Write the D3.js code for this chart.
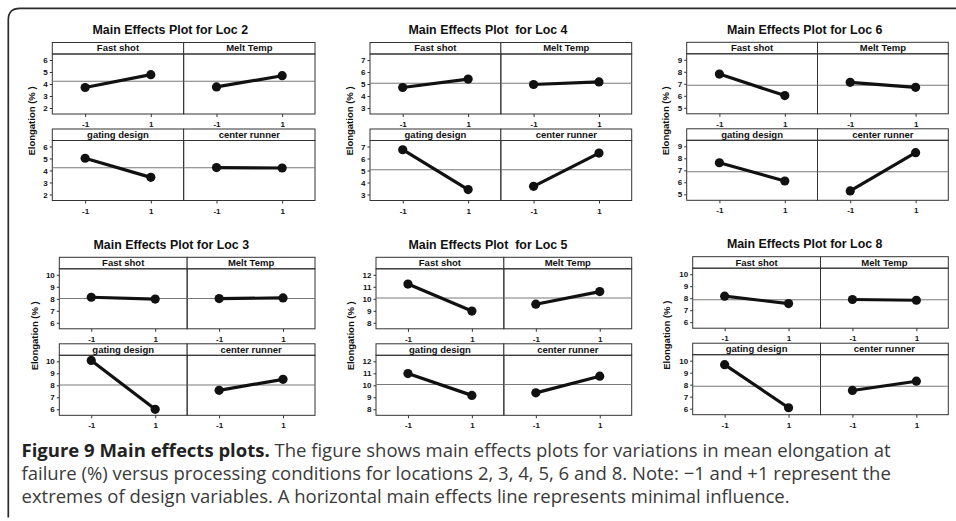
<!DOCTYPE html>
<html>
<head>
<meta charset="utf-8">
<script src="https://cdn.jsdelivr.net/npm/d3@7"></script>
<style>
  html, body { margin: 0; padding: 0; background: #fff; }
  svg { display: block; }
  .title { font-family: "Liberation Sans", Arial, sans-serif; font-weight: bold; font-size: 12.4px; fill: #111; }
  .strip { font-family: "Liberation Sans", Arial, sans-serif; font-weight: bold; font-size: 9.5px; fill: #111; }
  .ylab { font-family: "Liberation Sans", Arial, sans-serif; font-weight: bold; font-size: 9.5px; fill: #111; }
  .tick text { font-family: "Liberation Sans", Arial, sans-serif; font-weight: bold; font-size: 8px; fill: #111; }
  .caption { font-family: "Open Sans", sans-serif; font-size: 18.5px; fill: #3a3a3a; }
  .caption .lead { font-weight: bold; fill: #222; }
</style>
</head>
<body>
<svg id="fig" width="956" height="521"></svg>
<script>
// Factors shown in each 2x2 main-effects grid (row-major)
const factors = ["Fast shot", "Melt Temp", "gating design", "center runner"];
const levels = [-1, 1];

// Locations, in drawing order (top row, then bottom row)
const locations = ["Loc 2", "Loc 4", "Loc 6", "Loc 3", "Loc 5", "Loc 8"];
const titles = [
  "Main Effects Plot for Loc 2",
  "Main Effects Plot  for Loc 4",
  "Main Effects Plot for Loc 6",
  "Main Effects Plot for Loc 3",
  "Main Effects Plot  for Loc 5",
  "Main Effects Plot for Loc 8"
];

// Grand mean elongation (%) per location — the horizontal reference line
const grandMeans = [4.23, 5.06, 6.88, 8.03, 10.07, 7.87];

// Y-axis extents and tick labels per location
const yDomains = [[1.5, 6.5], [2.5, 7.5], [4.5, 9.5], [5.5, 10.5], [7.5, 12.5], [5.5, 10.5]];
const yTicks = [
  [2, 3, 4, 5, 6],
  [3, 4, 5, 6, 7],
  [5, 6, 7, 8, 9],
  [6, 7, 8, 9, 10],
  [8, 9, 10, 11, 12],
  [6, 7, 8, 9, 10]
];

// Mean elongation (%) at levels -1 / +1, one pair per factor
const loc2Means = [[3.71, 4.78], [3.76, 4.69], [5.02, 3.43], [4.24, 4.21]];
const loc4Means = [[4.71, 5.41], [4.96, 5.17], [6.73, 3.41], [3.68, 6.45]];
const loc6Means = [[7.81, 6.02], [7.12, 6.71], [7.63, 6.11], [5.28, 8.47]];
const loc3Means = [[8.13, 7.98], [8.02, 8.07], [10.07, 6.00], [7.58, 8.50]];
const loc5Means = [[11.23, 8.98], [9.55, 10.60], [10.98, 9.16], [9.37, 10.76]];
const loc8Means = [[8.17, 7.55], [7.89, 7.83], [9.67, 6.08], [7.52, 8.29]];
const locationMeans = [loc2Means, loc4Means, loc6Means, loc3Means, loc5Means, loc8Means];

// Caption text
const captionLead = "Figure 9 Main effects plots.";
const captionLines = [
  " The figure shows main effects plots for variations in mean elongation at",
  "failure (%) versus processing conditions for locations 2, 3, 4, 5, 6 and 8. Note: \u22121 and +1 represent the",
  "extremes of design variables. A horizontal main effects line represents minimal influence."
];

// ---- layout of each grid: left edge, right edge, top of first strip, y-label offset
const layout = [
  { left: 52.3, right: 315.0, top: 42.5, labelDx: 21 },
  { left: 370.0, right: 631.7, top: 42.5, labelDx: 21 },
  { left: 686.7, right: 948.3, top: 42.3, labelDx: 21.5 },
  { left: 59.3, right: 315.0, top: 257.3, labelDx: 24.5 },
  { left: 376.0, right: 631.7, top: 257.3, labelDx: 25.5 },
  { left: 692.7, right: 948.3, top: 256.7, labelDx: 26.5 }
];
const stripH = 11.5, plotH = 60, rowGap = 15;
const frameColor = "#333";

const svg = d3.select("#fig");

// Rounded frame along the top and left of the figure
svg.append("path")
  .attr("d", "M8.3,517.5 L8.3,20 Q8.3,8.3 20,8.3 L956,8.3")
  .attr("fill", "none")
  .attr("stroke", "#2b2b2b")
  .attr("stroke-width", 1.7);

locations.forEach((loc, i) => {
  const L = layout[i];
  const half = (L.right - L.left) / 2;
  const g = svg.append("g").attr("class", "grid");

  // Title
  const titleOffset = i < 3 ? 118 : 112;
  g.append("text")
    .attr("class", "title")
    .attr("x", L.left + titleOffset)
    .attr("y", L.top - 8.3)
    .attr("text-anchor", "middle")
    .style("white-space", "pre")
    .text(titles[i]);

  // Y-axis title
  const cy = L.top + 78.5;
  g.append("text")
    .attr("class", "ylab")
    .attr("transform", `translate(${L.left - L.labelDx + 3.5},${cy}) rotate(-90)`)
    .attr("text-anchor", "middle")
    .text("Elongation (% )");

  factors.forEach((f, k) => {
    const row = Math.floor(k / 2), col = k % 2;
    const x0 = L.left + col * half, x1 = x0 + half;
    const stripTop = L.top + row * (stripH + plotH + rowGap);
    const plotTop = stripTop + stripH;
    const plotBottom = plotTop + plotH;

    const x = d3.scaleLinear().domain([-2, 2]).range([x0, x1]);
    const y = d3.scaleLinear().domain(yDomains[i]).range([plotBottom, plotTop]);

    // Strip label box
    g.append("rect")
      .attr("x", x0).attr("y", stripTop)
      .attr("width", half).attr("height", stripH)
      .attr("fill", "#fff").attr("stroke", frameColor).attr("stroke-width", 1);
    g.append("text")
      .attr("class", "strip")
      .attr("x", (x0 + x1) / 2)
      .attr("y", stripTop + stripH - 2.6)
      .attr("text-anchor", "middle")
      .text(f);

    // Panel frame
    g.append("rect")
      .attr("x", x0).attr("y", plotTop)
      .attr("width", half).attr("height", plotH)
      .attr("fill", "none").attr("stroke", frameColor).attr("stroke-width", 1);

    // Grand-mean reference line
    g.append("line")
      .attr("x1", x0).attr("x2", x1)
      .attr("y1", y(grandMeans[i])).attr("y2", y(grandMeans[i]))
      .attr("stroke", "#7a7a7a").attr("stroke-width", 1.1);

    // Axes
    if (col === 0) {
      const ya = g.append("g")
        .attr("transform", `translate(${x0},0)`)
        .call(d3.axisLeft(y).tickValues(yTicks[i]).tickSize(2.5).tickPadding(2).tickFormat(d3.format("d")));
      ya.select(".domain").remove();
      ya.selectAll(".tick line").attr("stroke", frameColor);
    }
    const xa = g.append("g")
      .attr("transform", `translate(0,${plotBottom})`)
      .call(d3.axisBottom(x).tickValues(levels).tickSize(3).tickPadding(4.5).tickFormat(d => String(d)));
    xa.select(".domain").remove();
    xa.selectAll(".tick line").attr("stroke", frameColor);

    // Mean response line and points
    const pts = levels.map((lv, j) => ({ lv, v: locationMeans[i][k][j] }));
    g.append("path")
      .datum(pts)
      .attr("d", d3.line().x(d => x(d.lv)).y(d => y(d.v)))
      .attr("fill", "none")
      .attr("stroke", "#111")
      .attr("stroke-width", 3.2);
    g.selectAll(null)
      .data(pts)
      .join("circle")
      .attr("cx", d => x(d.lv))
      .attr("cy", d => y(d.v))
      .attr("r", 4.6)
      .attr("fill", "#111");
  });
});

// Caption, three lines with a bold lead-in
const baselines = [457, 480, 503];
captionLines.forEach((line, j) => {
  const t = svg.append("text")
    .attr("class", "caption")
    .attr("x", 21.5)
    .attr("y", baselines[j])
    .style("white-space", "pre");
  if (j === 0) t.append("tspan").attr("class", "lead").text(captionLead);
  t.append("tspan").text(line);
});
</script>
</body>
</html>
